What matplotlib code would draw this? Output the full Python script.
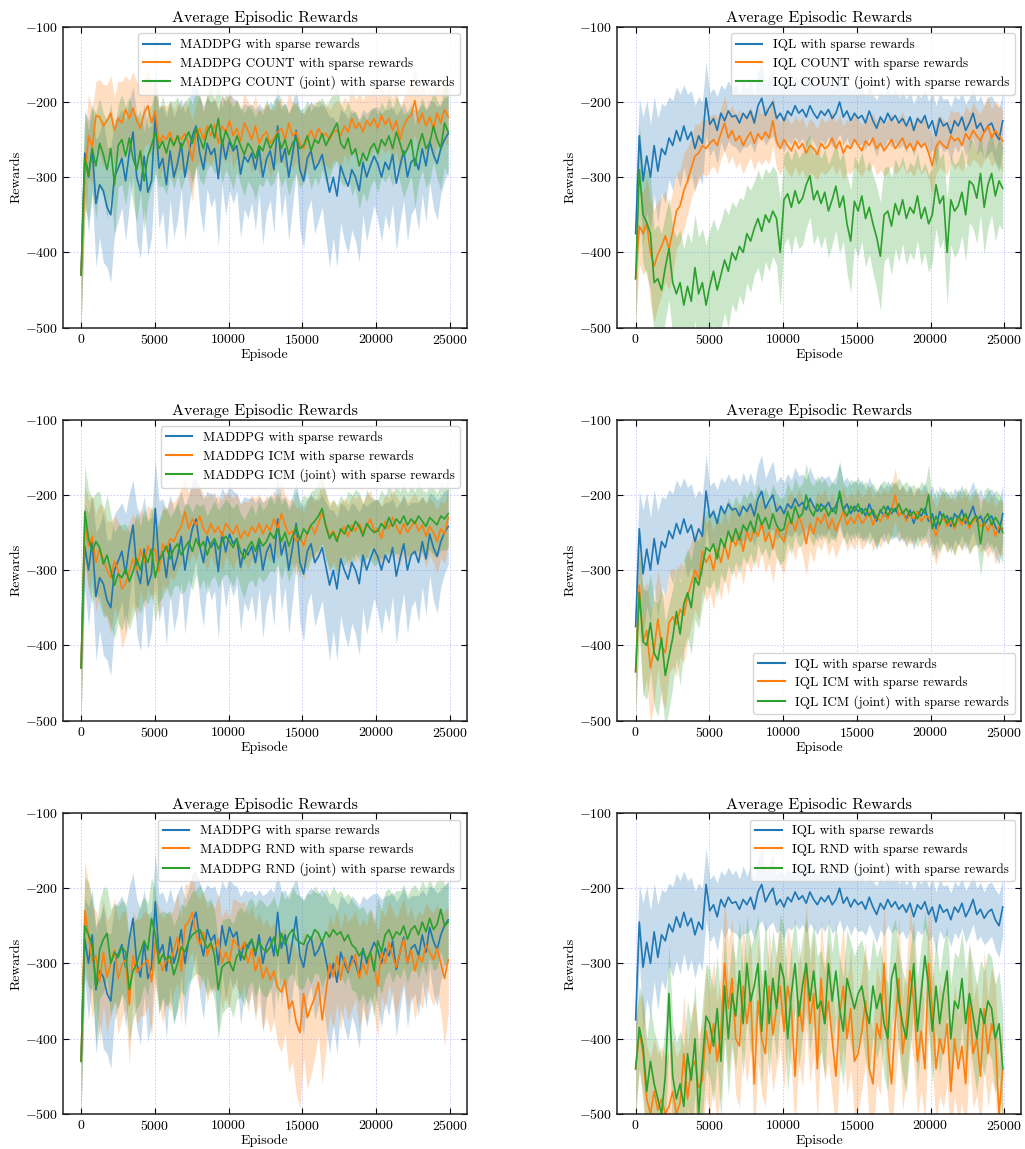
import numpy as np
import matplotlib
matplotlib.use("Agg")
import matplotlib.pyplot as plt

plt.rcParams.update({
    "font.family": "serif",
    "font.serif": ["cmr10"],
    "mathtext.fontset": "cm",
    "axes.formatter.use_mathtext": True,
    "axes.unicode_minus": True,
    "axes.edgecolor": "#222222",
    "axes.linewidth": 1.1,
})

# ---------------- mean rewards and spread per run ----------------
maddpg_sparse = [
    -430, -268, -300, -262, -335, -310, -318, -340, -350, -300,
    -288, -275, -305, -268, -240, -300, -318, -272, -320, -305,
    -218, -288, -275, -310, -265, -300, -282, -255, -300, -270,
    -245, -232, -268, -290, -255, -270, -262, -302, -250, -276,
    -252, -265, -258, -296, -272, -280, -268, -290, -262, -300,
    -276, -265, -290, -232, -280, -262, -300, -270, -238, -290,
    -305, -275, -265, -290, -282, -270, -295, -320, -300, -325,
    -285, -300, -312, -290, -300, -318, -280, -300, -285, -272,
    -282, -300, -280, -290, -270, -308, -285, -265, -300, -280,
    -275, -290, -262, -285, -252, -270, -282, -262, -250, -242]
maddpg_sparse_std = [
    70, 55, 75, 60, 85, 70, 95, 80, 90, 75,
    70, 65, 80, 70, 60, 85, 90, 70, 85, 75,
    65, 80, 70, 90, 65, 80, 75, 60, 85, 70,
    65, 55, 75, 85, 60, 70, 65, 90, 60, 75,
    65, 70, 60, 85, 70, 75, 65, 80, 60, 90,
    70, 65, 85, 55, 75, 60, 85, 70, 55, 80,
    90, 70, 65, 85, 75, 70, 85, 100, 80, 95,
    75, 85, 90, 80, 85, 95, 70, 85, 75, 65,
    75, 85, 70, 80, 65, 90, 75, 65, 85, 70,
    65, 80, 60, 75, 55, 70, 75, 60, 55, 50]

maddpg_count = [
    -430, -300, -245, -260, -218, -220, -232, -225, -215, -238,
    -222, -228, -210, -222, -208, -225, -235, -215, -205, -228,
    -212, -255, -245, -250, -240, -258, -245, -250, -242, -255,
    -278, -245, -235, -250, -232, -245, -230, -255, -232, -240,
    -225, -245, -235, -252, -228, -238, -250, -232, -255, -245,
    -240, -255, -248, -240, -235, -250, -228, -245, -240, -255,
    -262, -248, -238, -250, -235, -245, -242, -250, -240, -238,
    -245, -232, -240, -222, -235, -228, -240, -225, -232, -222,
    -235, -218, -230, -222, -238, -225, -250, -232, -222, -218,
    -198, -228, -215, -232, -220, -235, -215, -228, -210, -220]
maddpg_count_std = [
    70, 60, 55, 50, 45, 50, 55, 48, 50, 45,
    50, 55, 45, 50, 48, 52, 55, 45, 50, 48,
    45, 50, 40, 45, 42, 48, 45, 40, 45, 48,
    55, 42, 45, 40, 45, 42, 38, 45, 40, 42,
    40, 45, 38, 42, 40, 38, 45, 40, 42, 38,
    40, 45, 38, 40, 42, 38, 40, 45, 38, 42,
    45, 40, 38, 42, 40, 38, 42, 40, 38, 40,
    42, 38, 40, 42, 38, 40, 42, 38, 40, 38,
    40, 42, 38, 40, 42, 40, 45, 38, 42, 40,
    45, 38, 42, 40, 38, 42, 40, 38, 42, 40]

maddpg_count_joint = [
    -430, -275, -298, -262, -285, -255, -270, -290, -262, -310,
    -258, -250, -272, -248, -275, -290, -265, -305, -272, -258,
    -240, -262, -252, -268, -248, -258, -245, -262, -250, -240,
    -255, -235, -248, -262, -240, -230, -248, -222, -258, -238,
    -250, -262, -245, -258, -270, -255, -262, -275, -258, -265,
    -248, -262, -252, -242, -262, -250, -270, -255, -248, -262,
    -258, -245, -265, -250, -255, -242, -258, -248, -238, -228,
    -255, -262, -248, -270, -262, -285, -268, -278, -262, -255,
    -268, -250, -258, -245, -262, -240, -255, -272, -262, -250,
    -285, -258, -242, -262, -255, -232, -250, -262, -228, -240]
maddpg_count_joint_std = [
    70, 65, 60, 55, 70, 60, 55, 65, 60, 70,
    55, 60, 65, 55, 60, 70, 55, 65, 60, 55,
    55, 50, 60, 55, 50, 58, 52, 55, 50, 48,
    52, 50, 55, 48, 50, 52, 48, 55, 50, 52,
    50, 55, 48, 52, 55, 50, 52, 55, 50, 48,
    52, 50, 55, 48, 52, 50, 55, 50, 48, 52,
    50, 48, 52, 50, 55, 48, 50, 52, 48, 50,
    52, 50, 48, 55, 50, 58, 52, 55, 50, 48,
    52, 50, 48, 52, 50, 48, 52, 55, 50, 48,
    55, 50, 48, 52, 50, 48, 52, 55, 58, 60]

maddpg_icm = [
    -430, -240, -268, -255, -290, -272, -285, -300, -310, -288,
    -300, -325, -318, -302, -285, -300, -272, -290, -268, -280,
    -272, -302, -265, -275, -258, -262, -250, -242, -222, -245,
    -232, -240, -228, -245, -252, -238, -250, -242, -255, -238,
    -245, -252, -240, -258, -248, -255, -242, -250, -238, -252,
    -240, -248, -232, -245, -225, -240, -252, -248, -262, -255,
    -268, -250, -240, -252, -238, -222, -240, -255, -248, -258,
    -250, -242, -255, -240, -248, -238, -250, -242, -232, -248,
    -245, -258, -235, -245, -230, -242, -252, -238, -250, -242,
    -235, -248, -240, -255, -242, -250, -262, -245, -252, -230]
maddpg_icm_std = [
    70, 55, 60, 55, 65, 60, 70, 65, 75, 60,
    65, 80, 70, 65, 60, 65, 55, 60, 55, 60,
    55, 60, 52, 55, 50, 52, 48, 50, 45, 48,
    45, 48, 42, 45, 48, 42, 45, 42, 48, 42,
    45, 48, 42, 45, 40, 45, 42, 45, 40, 42,
    40, 42, 38, 40, 42, 40, 45, 42, 45, 40,
    45, 42, 40, 42, 38, 40, 42, 45, 40, 42,
    40, 38, 42, 40, 42, 38, 40, 42, 38, 40,
    40, 42, 38, 40, 38, 40, 42, 38, 40, 38,
    38, 40, 38, 42, 38, 40, 42, 38, 40, 40]

maddpg_icm_joint = [
    -430, -222, -258, -275, -262, -270, -292, -280, -300, -320,
    -305, -310, -298, -315, -302, -285, -300, -278, -290, -272,
    -310, -288, -278, -268, -285, -272, -265, -280, -270, -262,
    -275, -258, -270, -262, -280, -265, -258, -272, -262, -255,
    -262, -270, -258, -275, -285, -270, -262, -275, -258, -268,
    -262, -250, -258, -245, -262, -250, -268, -255, -242, -260,
    -245, -252, -240, -235, -228, -218, -242, -258, -250, -262,
    -245, -252, -240, -248, -235, -242, -255, -238, -245, -250,
    -248, -238, -245, -230, -242, -232, -238, -228, -240, -232,
    -238, -228, -235, -242, -230, -235, -240, -228, -232, -225]
maddpg_icm_joint_std = [
    70, 60, 65, 70, 65, 75, 70, 80, 75, 70,
    65, 70, 60, 65, 60, 62, 58, 60, 55, 58,
    60, 55, 58, 52, 55, 50, 55, 52, 58, 50,
    52, 48, 55, 50, 52, 48, 50, 52, 48, 50,
    50, 52, 48, 50, 52, 48, 50, 48, 50, 48,
    48, 50, 45, 48, 50, 45, 48, 45, 48, 50,
    45, 48, 45, 42, 45, 48, 45, 42, 45, 48,
    45, 42, 45, 48, 42, 45, 42, 45, 42, 45,
    42, 45, 42, 45, 42, 45, 42, 45, 42, 45,
    42, 45, 42, 45, 42, 45, 42, 45, 42, 45]

maddpg_rnd = [
    -430, -230, -262, -298, -290, -325, -285, -318, -300, -282,
    -320, -302, -295, -355, -290, -312, -305, -300, -295, -325,
    -272, -290, -310, -292, -300, -282, -265, -310, -250, -245,
    -232, -262, -275, -258, -290, -275, -282, -268, -300, -285,
    -300, -268, -275, -282, -272, -300, -280, -310, -292, -320,
    -305, -322, -310, -332, -338, -322, -360, -350, -378, -392,
    -340, -372, -358, -345, -325, -375, -340, -300, -318, -290,
    -322, -292, -310, -300, -288, -320, -300, -315, -285, -302,
    -330, -285, -300, -272, -290, -305, -285, -268, -300, -282,
    -310, -290, -298, -275, -285, -295, -280, -300, -320, -295]
maddpg_rnd_std = [
    70, 65, 70, 75, 60, 80, 70, 75, 65, 70,
    75, 70, 65, 80, 60, 70, 65, 70, 60, 75,
    55, 65, 70, 60, 65, 55, 60, 70, 55, 50,
    52, 55, 60, 55, 62, 58, 55, 60, 62, 58,
    60, 55, 58, 62, 55, 65, 58, 65, 60, 70,
    65, 70, 65, 75, 80, 70, 85, 80, 95, 100,
    85, 95, 90, 80, 70, 85, 75, 65, 70, 62,
    68, 60, 65, 62, 58, 68, 60, 65, 58, 62,
    70, 58, 62, 55, 60, 65, 58, 55, 62, 58,
    65, 60, 62, 55, 58, 62, 58, 65, 90, 70]

maddpg_rnd_joint = [
    -430, -250, -262, -275, -332, -282, -268, -260, -300, -285,
    -292, -278, -285, -335, -310, -300, -285, -270, -282, -240,
    -262, -300, -288, -295, -290, -315, -300, -278, -285, -270,
    -262, -258, -255, -268, -280, -272, -290, -335, -305, -300,
    -298, -310, -290, -285, -295, -275, -268, -285, -272, -280,
    -285, -278, -265, -290, -260, -275, -262, -255, -268, -272,
    -275, -262, -268, -255, -260, -272, -258, -265, -255, -262,
    -258, -270, -262, -275, -280, -290, -282, -295, -285, -310,
    -270, -285, -262, -255, -268, -258, -262, -250, -268, -255,
    -250, -262, -245, -258, -240, -255, -248, -228, -250, -245]
maddpg_rnd_joint_std = [
    70, 65, 70, 60, 75, 65, 70, 60, 72, 65,
    68, 62, 65, 70, 65, 60, 65, 58, 62, 55,
    60, 65, 58, 62, 60, 65, 62, 58, 60, 55,
    58, 55, 60, 58, 62, 58, 60, 65, 62, 60,
    58, 62, 58, 60, 62, 58, 55, 60, 58, 62,
    60, 58, 55, 62, 58, 60, 55, 58, 60, 62,
    58, 55, 60, 58, 55, 60, 58, 55, 58, 55,
    55, 58, 55, 60, 58, 62, 58, 60, 58, 62,
    58, 55, 58, 55, 58, 55, 58, 55, 58, 55,
    55, 58, 55, 58, 52, 55, 58, 55, 52, 55]

iql_sparse = [
    -375, -245, -305, -272, -300, -258, -292, -262, -270, -248,
    -258, -238, -252, -232, -250, -240, -262, -245, -255, -195,
    -230, -222, -238, -215, -225, -212, -220, -218, -228, -215,
    -222, -212, -228, -205, -195, -218, -208, -200, -222, -215,
    -225, -212, -218, -205, -215, -210, -220, -205, -215, -222,
    -212, -218, -210, -222, -215, -200, -220, -212, -225, -215,
    -222, -218, -228, -212, -225, -235, -220, -228, -215, -225,
    -218, -228, -222, -232, -220, -238, -222, -228, -218, -235,
    -225, -245, -222, -232, -228, -242, -225, -232, -220, -238,
    -228, -215, -235, -228, -240, -232, -228, -242, -250, -225]
iql_sparse_std = [
    60, 50, 85, 75, 70, 65, 70, 60, 65, 55,
    60, 58, 62, 55, 60, 55, 58, 52, 55, 48,
    42, 40, 45, 38, 42, 40, 38, 42, 40, 45,
    38, 42, 40, 45, 48, 40, 42, 45, 38, 40,
    42, 40, 38, 42, 40, 38, 40, 42, 38, 40,
    38, 40, 36, 38, 40, 42, 38, 36, 38, 35,
    36, 38, 35, 36, 34, 38, 35, 36, 34, 35,
    36, 34, 35, 36, 34, 35, 33, 34, 35, 36,
    38, 40, 34, 35, 33, 36, 34, 35, 33, 35,
    34, 33, 35, 36, 35, 38, 36, 40, 42, 38]

iql_count = [
    -435, -365, -375, -362, -400, -418, -402, -392, -378, -395,
    -372, -345, -338, -318, -305, -288, -272, -268, -258, -262,
    -255, -250, -258, -242, -228, -248, -238, -252, -245, -258,
    -248, -240, -255, -242, -250, -240, -248, -225, -252, -262,
    -250, -258, -265, -252, -262, -255, -268, -258, -262, -270,
    -255, -262, -258, -248, -262, -252, -268, -258, -262, -250,
    -258, -265, -252, -258, -248, -262, -255, -265, -258, -250,
    -262, -255, -248, -262, -255, -265, -252, -260, -255, -268,
    -285, -260, -252, -258, -262, -245, -252, -248, -258, -242,
    -250, -238, -245, -252, -240, -232, -248, -238, -245, -252]
iql_count_std = [
    60, 50, 55, 60, 70, 75, 70, 65, 60, 55,
    55, 50, 48, 50, 45, 40, 42, 38, 36, 38,
    36, 35, 38, 34, 36, 35, 34, 36, 35, 38,
    35, 34, 36, 35, 34, 36, 35, 34, 36, 35,
    34, 36, 35, 34, 36, 35, 34, 36, 35, 34,
    36, 35, 34, 36, 35, 34, 36, 35, 34, 36,
    35, 34, 36, 35, 34, 36, 35, 34, 36, 35,
    34, 36, 35, 34, 36, 35, 34, 36, 35, 34,
    38, 36, 35, 34, 36, 35, 38, 36, 35, 38,
    36, 38, 35, 36, 38, 40, 38, 40, 42, 40]

iql_count_joint = [
    -435, -290, -350, -360, -375, -440, -435, -450, -420, -395,
    -440, -455, -440, -470, -445, -465, -420, -455, -440, -470,
    -445, -425, -450, -430, -410, -425, -400, -410, -392, -400,
    -375, -385, -368, -355, -372, -350, -360, -345, -355, -400,
    -330, -322, -340, -318, -335, -328, -310, -298, -330, -318,
    -335, -320, -345, -330, -312, -340, -325, -362, -385, -332,
    -345, -325, -355, -340, -362, -380, -405, -350, -345, -365,
    -335, -350, -330, -355, -340, -348, -325, -355, -340, -362,
    -350, -310, -335, -325, -400, -330, -345, -338, -320, -350,
    -305, -310, -328, -295, -340, -310, -295, -325, -305, -315]
iql_count_joint_std = [
    70, 60, 65, 70, 75, 70, 72, 75, 70, 68,
    72, 75, 70, 75, 72, 78, 70, 75, 72, 80,
    75, 70, 78, 72, 70, 75, 68, 70, 65, 70,
    65, 68, 62, 65, 68, 62, 65, 60, 62, 70,
    60, 58, 62, 58, 60, 62, 58, 55, 60, 58,
    60, 58, 62, 60, 58, 62, 60, 65, 68, 60,
    62, 60, 65, 62, 65, 68, 72, 62, 60, 65,
    60, 62, 58, 62, 60, 62, 58, 62, 60, 65,
    62, 58, 60, 58, 70, 60, 62, 60, 58, 62,
    55, 58, 60, 55, 62, 58, 55, 60, 58, 55]

iql_icm = [
    -435, -320, -395, -380, -430, -405, -365, -400, -410, -370,
    -362, -372, -352, -360, -335, -318, -300, -312, -275, -290,
    -280, -300, -272, -290, -265, -285, -255, -268, -250, -275,
    -248, -262, -245, -255, -238, -262, -250, -272, -245, -255,
    -262, -240, -232, -248, -228, -242, -265, -238, -252, -230,
    -238, -225, -245, -232, -248, -235, -222, -240, -230, -238,
    -225, -238, -232, -222, -240, -228, -235, -225, -232, -220,
    -200, -228, -222, -235, -225, -232, -222, -235, -228, -230,
    -240, -255, -238, -230, -242, -235, -245, -232, -240, -228,
    -245, -235, -230, -242, -238, -248, -235, -255, -242, -245]
iql_icm_std = [
    60, 55, 70, 65, 75, 70, 65, 72, 75, 68,
    65, 70, 62, 65, 60, 55, 52, 55, 50, 52,
    50, 52, 48, 50, 45, 48, 42, 45, 42, 45,
    40, 42, 40, 42, 38, 42, 40, 45, 38, 40,
    42, 38, 36, 40, 36, 38, 42, 36, 38, 35,
    36, 34, 36, 35, 36, 34, 33, 35, 34, 35,
    34, 35, 34, 33, 35, 34, 35, 33, 34, 33,
    35, 34, 33, 35, 34, 35, 33, 35, 34, 33,
    36, 38, 35, 34, 35, 34, 36, 34, 35, 34,
    35, 34, 33, 35, 34, 36, 34, 38, 35, 36]

iql_icm_joint = [
    -435, -330, -395, -400, -370, -410, -420, -390, -440, -415,
    -390, -355, -385, -345, -330, -350, -310, -320, -295, -270,
    -275, -265, -285, -258, -270, -248, -262, -245, -260, -240,
    -248, -235, -250, -225, -240, -230, -245, -225, -240, -248,
    -245, -222, -238, -215, -230, -225, -200, -220, -228, -212,
    -222, -215, -228, -218, -225, -195, -220, -228, -215, -222,
    -212, -225, -218, -228, -220, -232, -222, -215, -228, -218,
    -222, -212, -225, -218, -228, -222, -232, -218, -225, -200,
    -245, -228, -240, -225, -238, -230, -242, -228, -235, -225,
    -240, -232, -228, -265, -232, -225, -240, -230, -238, -250]
iql_icm_joint_std = [
    60, 55, 70, 72, 65, 70, 75, 68, 72, 70,
    65, 62, 68, 60, 58, 62, 55, 58, 52, 50,
    50, 48, 52, 46, 48, 45, 46, 44, 45, 42,
    44, 42, 45, 40, 42, 40, 42, 40, 42, 44,
    42, 40, 42, 38, 40, 40, 42, 38, 40, 38,
    38, 36, 38, 36, 38, 40, 36, 38, 36, 38,
    36, 38, 36, 38, 36, 38, 36, 35, 38, 36,
    36, 35, 38, 36, 38, 36, 38, 36, 36, 40,
    38, 36, 38, 36, 38, 36, 38, 36, 38, 36,
    38, 36, 38, 42, 38, 36, 38, 36, 40, 42]

iql_rnd = [
    -440, -390, -420, -480, -500, -470, -495, -480, -500, -490,
    -470, -500, -485, -420, -480, -440, -430, -465, -455, -390,
    -420, -380, -430, -390, -300, -360, -320, -400, -410, -330,
    -380, -340, -460, -350, -400, -420, -330, -395, -360, -330,
    -390, -330, -360, -450, -350, -390, -300, -380, -340, -440,
    -320, -380, -350, -400, -450, -370, -330, -400, -360, -430,
    -420, -390, -350, -440, -460, -380, -400, -300, -410, -460,
    -380, -320, -420, -380, -310, -350, -430, -390, -440, -300,
    -360, -440, -400, -420, -380, -470, -400, -440, -410, -460,
    -350, -420, -400, -450, -360, -420, -380, -400, -500, -440]
iql_rnd_std = [
    60, 50, 65, 70, 75, 70, 75, 70, 75, 72,
    70, 75, 72, 80, 70, 75, 80, 70, 75, 85,
    80, 85, 78, 82, 90, 85, 80, 75, 82, 85,
    80, 78, 72, 82, 75, 70, 80, 75, 78, 82,
    75, 80, 78, 70, 80, 75, 85, 78, 80, 70,
    82, 78, 80, 75, 70, 78, 82, 75, 80, 72,
    75, 78, 80, 72, 70, 78, 75, 85, 75, 70,
    78, 82, 75, 78, 85, 80, 72, 78, 70, 85,
    78, 72, 75, 72, 78, 68, 75, 70, 75, 68,
    80, 72, 75, 70, 78, 72, 75, 72, 65, 70]

iql_rnd_joint = [
    -440, -385, -410, -470, -430, -460, -480, -500, -450, -340,
    -450, -480, -460, -490, -420, -455, -400, -500, -430, -370,
    -380, -410, -360, -430, -330, -400, -340, -370, -310, -380,
    -300, -350, -330, -300, -390, -310, -380, -320, -360, -300,
    -320, -400, -340, -300, -370, -330, -300, -350, -310, -360,
    -350, -380, -300, -350, -310, -360, -390, -320, -340, -360,
    -340, -330, -360, -380, -330, -360, -340, -380, -400, -320,
    -300, -350, -380, -400, -350, -300, -390, -340, -290, -330,
    -390, -330, -380, -340, -310, -400, -350, -360, -320, -380,
    -340, -370, -400, -360, -380, -350, -360, -400, -380, -440]
iql_rnd_joint_std = [
    60, 55, 65, 70, 72, 70, 75, 72, 70, 65,
    72, 75, 70, 78, 70, 75, 72, 80, 75, 70,
    72, 75, 70, 78, 72, 75, 70, 72, 68, 70,
    65, 70, 68, 65, 72, 68, 70, 65, 68, 65,
    68, 72, 65, 62, 70, 65, 62, 68, 65, 70,
    68, 70, 62, 65, 62, 68, 72, 65, 68, 70,
    65, 62, 68, 70, 65, 68, 65, 70, 72, 62,
    60, 65, 70, 72, 65, 60, 70, 65, 60, 62,
    70, 62, 68, 65, 60, 72, 65, 68, 62, 70,
    65, 68, 72, 65, 70, 65, 68, 72, 70, 75]

last_episode = 24900
y_ticks = [-500, -400, -300, -200, -100]
x_ticks = [0, 5000, 10000, 15000, 20000, 25000]
colors = ["#1f77b4", "#ff7f0e", "#2ca02c"]

panels = [
    # (row, col, runs, legend location)
    (0, 0, [("MADDPG with sparse rewards", maddpg_sparse, maddpg_sparse_std),
            ("MADDPG COUNT with sparse rewards", maddpg_count, maddpg_count_std),
            ("MADDPG COUNT (joint) with sparse rewards", maddpg_count_joint, maddpg_count_joint_std)],
     "upper right"),
    (0, 1, [("IQL with sparse rewards", iql_sparse, iql_sparse_std),
            ("IQL COUNT with sparse rewards", iql_count, iql_count_std),
            ("IQL COUNT (joint) with sparse rewards", iql_count_joint, iql_count_joint_std)],
     "upper right"),
    (1, 0, [("MADDPG with sparse rewards", maddpg_sparse, maddpg_sparse_std),
            ("MADDPG ICM with sparse rewards", maddpg_icm, maddpg_icm_std),
            ("MADDPG ICM (joint) with sparse rewards", maddpg_icm_joint, maddpg_icm_joint_std)],
     "upper right"),
    (1, 1, [("IQL with sparse rewards", iql_sparse, iql_sparse_std),
            ("IQL ICM with sparse rewards", iql_icm, iql_icm_std),
            ("IQL ICM (joint) with sparse rewards", iql_icm_joint, iql_icm_joint_std)],
     "lower right"),
    (2, 0, [("MADDPG with sparse rewards", maddpg_sparse, maddpg_sparse_std),
            ("MADDPG RND with sparse rewards", maddpg_rnd, maddpg_rnd_std),
            ("MADDPG RND (joint) with sparse rewards", maddpg_rnd_joint, maddpg_rnd_joint_std)],
     "upper right"),
    (2, 1, [("IQL with sparse rewards", iql_sparse, iql_sparse_std),
            ("IQL RND with sparse rewards", iql_rnd, iql_rnd_std),
            ("IQL RND (joint) with sparse rewards", iql_rnd_joint, iql_rnd_joint_std)],
     "upper right"),
]

fig = plt.figure(figsize=(10.25, 11.49), dpi=100)
col_left = [0.0612, 0.6022]
col_width = 0.394
row_bottom = [0.7148, 0.3728, 0.0305]
row_height = 0.262

for row, col, runs, loc in panels:
    ax = fig.add_axes([col_left[col], row_bottom[row], col_width, row_height])
    for (label, mean, std), c in zip(runs, colors):
        mean = np.asarray(mean, dtype=float)
        std = np.asarray(std, dtype=float)
        episodes = np.linspace(0, last_episode, len(mean))
        ax.fill_between(episodes, mean - std, mean + std, color=c, alpha=0.25, lw=0)
        ax.plot(episodes, mean, color=c, lw=1.2, label=label)
    ax.set_ylim(-500, -100)
    ax.set_xlim(-1245, 26145)
    ax.set_yticks(y_ticks)
    ax.set_xticks(x_ticks)
    ax.grid(True, color="#c8c8ff", ls=(0, (2, 2)), lw=0.6)
    ax.set_axisbelow(True)
    ax.tick_params(direction="in", top=True, right=True, length=4, labelsize=10)
    ax.set_title("Average Episodic Rewards", fontsize=11.5, pad=3)
    ax.set_xlabel("Episode", fontsize=10, labelpad=1)
    ax.set_ylabel("Rewards", fontsize=10, labelpad=2)
    leg = ax.legend(loc=loc, fontsize=9.5, framealpha=0.8, fancybox=True,
                    edgecolor="#cccccc", handlelength=2.0, labelspacing=0.45,
                    borderpad=0.4)
    for handle in leg.get_lines():
        handle.set_linewidth(1.5)

fig.savefig("out.png", dpi=100)
